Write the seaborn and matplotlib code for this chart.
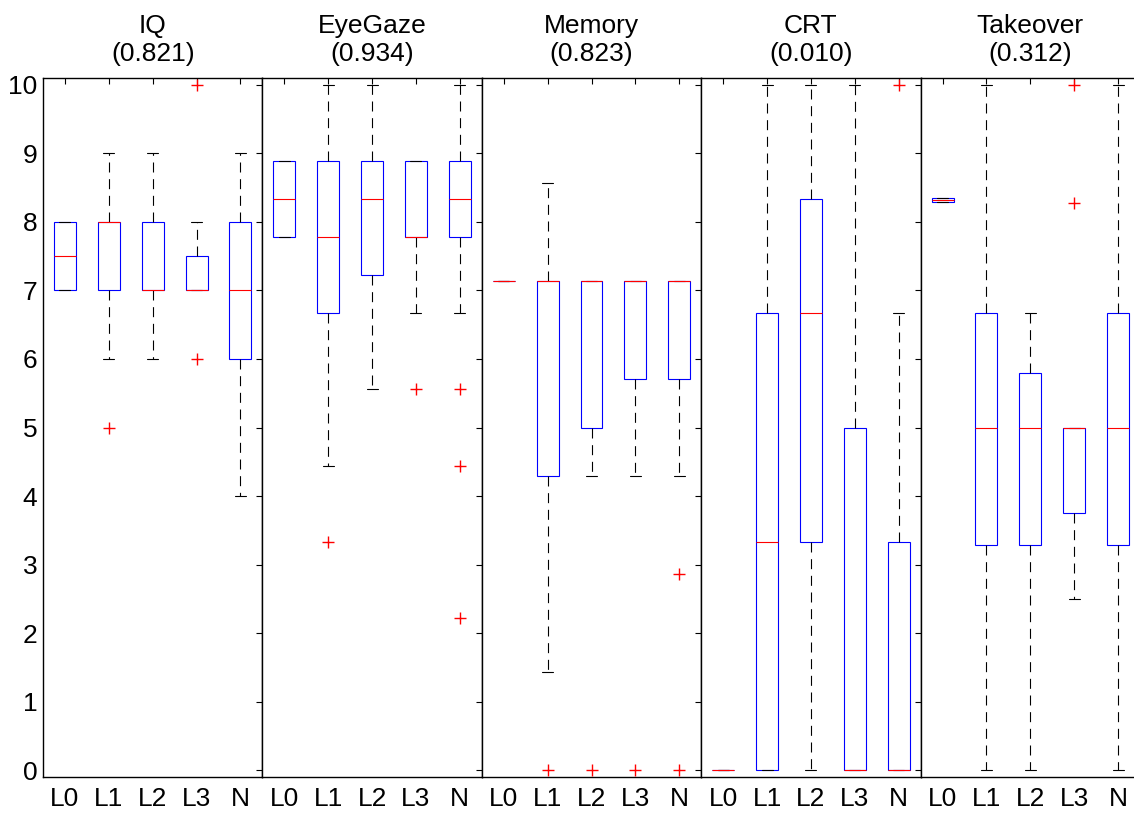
import matplotlib
matplotlib.use("Agg")
import matplotlib.pyplot as plt
import pandas as pd
import seaborn as sns


# ------------------------------------------------------------------
# Data: each box is (whisker_lo, q1, median, q3, whisker_hi)
# ------------------------------------------------------------------
GROUPS = ["L0", "L1", "L2", "L3", "N"]

PANEL_NAMES = ["IQ", "EyeGaze", "Memory", "CRT", "Takeover"]
PANEL_PVALUES = [0.821, 0.934, 0.823, 0.010, 0.312]

IQ_BOXES = [
    [7, 7, 7.5, 8, 8],
    [6, 7, 8, 8, 9],
    [6, 7, 7, 8, 9],
    [7, 7, 7, 7.5, 8],
    [4, 6, 7, 8, 9],
]
IQ_OUTLIERS = [[], [5], [], [6, 10], []]

EYEGAZE_BOXES = [
    [7.78, 7.78, 8.33, 8.89, 8.89],
    [4.44, 6.67, 7.78, 8.89, 10],
    [5.56, 7.22, 8.33, 8.89, 10],
    [6.67, 7.78, 7.78, 8.89, 8.89],
    [6.67, 7.78, 8.33, 8.89, 10],
]
EYEGAZE_OUTLIERS = [[], [3.33], [], [5.56], [5.56, 4.44, 2.22]]

MEMORY_BOXES = [
    [7.14, 7.14, 7.14, 7.14, 7.14],
    [1.43, 4.29, 7.14, 7.14, 8.57],
    [4.29, 5.0, 7.14, 7.14, 7.14],
    [4.29, 5.71, 7.14, 7.14, 7.14],
    [4.29, 5.71, 7.14, 7.14, 7.14],
]
MEMORY_OUTLIERS = [[], [0], [0], [0], [2.86, 0]]

CRT_BOXES = [
    [0, 0, 0, 0, 0],
    [0, 0, 3.33, 6.67, 10],
    [0, 3.33, 6.67, 8.33, 10],
    [0, 0, 0, 5, 10],
    [0, 0, 0, 3.33, 6.67],
]
CRT_OUTLIERS = [[], [], [], [], [10]]

TAKEOVER_BOXES = [
    [8.29, 8.29, 8.32, 8.35, 8.35],
    [0, 3.28, 5, 6.67, 10],
    [0, 3.28, 5, 5.8, 6.67],
    [2.5, 3.75, 5, 5, 5],
    [0, 3.28, 5, 6.67, 10],
]
TAKEOVER_OUTLIERS = [[], [], [], [8.28, 10], []]

PANEL_BOXES = [IQ_BOXES, EYEGAZE_BOXES, MEMORY_BOXES, CRT_BOXES, TAKEOVER_BOXES]
PANEL_OUTLIERS = [IQ_OUTLIERS, EYEGAZE_OUTLIERS, MEMORY_OUTLIERS,
                  CRT_OUTLIERS, TAKEOVER_OUTLIERS]

FONT_SIZE = 19

# MATLAB-like look
sns.set_style("white")
plt.rcParams.update({
    "font.family": ["Liberation Sans", "DejaVu Sans"],
    "font.size": FONT_SIZE,
    "text.color": "black",
    "axes.labelcolor": "black",
    "xtick.color": "black",
    "ytick.color": "black",
    "axes.linewidth": 1.0,
    "axes.edgecolor": "black",
})


def to_long(rows):
    """Flatten per-group lists into a long table for seaborn."""
    records = []
    for group, values in zip(GROUPS, rows):
        for v in values:
            records.append({"group": group, "value": v})
    return pd.DataFrame(records, columns=["group", "value"])


def draw_panel(ax, boxes, outliers, name, pvalue, show_ylabels):
    # whis=(0, 100) -> whiskers end at the min / max of the five summary values
    sns.boxplot(
        data=to_long(boxes), x="group", y="value", order=GROUPS,
        whis=(0, 100), width=0.5, linewidth=0.8, ax=ax,
        boxprops={"facecolor": "white", "edgecolor": "#0000FF"},
        medianprops={"color": "#FF0000"},
        whiskerprops={"color": "black", "linestyle": (0, (9, 6))},
        capprops={"color": "black"},
    )
    sns.stripplot(
        data=to_long(outliers), x="group", y="value", order=GROUPS,
        jitter=False, marker="+", color="#FF0000", edgecolor="#FF0000",
        size=9, linewidth=1.0, ax=ax,
    )

    ax.set_xlim(-0.5, 4.5)
    ax.set_ylim(-0.1, 10.1)
    ax.set_yticks(range(0, 11))
    ax.set_xlabel("")
    ax.set_ylabel("")
    ax.set_title(f"{name}\n({pvalue:.3f})", fontsize=FONT_SIZE, pad=12,
                 linespacing=1.25, color="black")

    ax.tick_params(axis="both", direction="in", top=True, right=True,
                   length=4.5, width=0.8, color="black",
                   labelsize=FONT_SIZE, labelcolor="black")
    ax.tick_params(axis="x", pad=7)
    ax.tick_params(axis="y", pad=4, labelleft=show_ylabels)
    for spine in ax.spines.values():
        spine.set_visible(True)
        spine.set_color("black")
        spine.set_linewidth(1.0)


fig = plt.figure(figsize=(11.34, 8.17), dpi=100)

left_px, panel_px = 43, 219.4
for i, (name, pval) in enumerate(zip(PANEL_NAMES, PANEL_PVALUES)):
    ax = fig.add_axes([(left_px + i * panel_px) / 1134, 40 / 817,
                       panel_px / 1134, 699 / 817])
    draw_panel(ax, PANEL_BOXES[i], PANEL_OUTLIERS[i], name, pval, i == 0)

fig.savefig("out.png", dpi=100)
